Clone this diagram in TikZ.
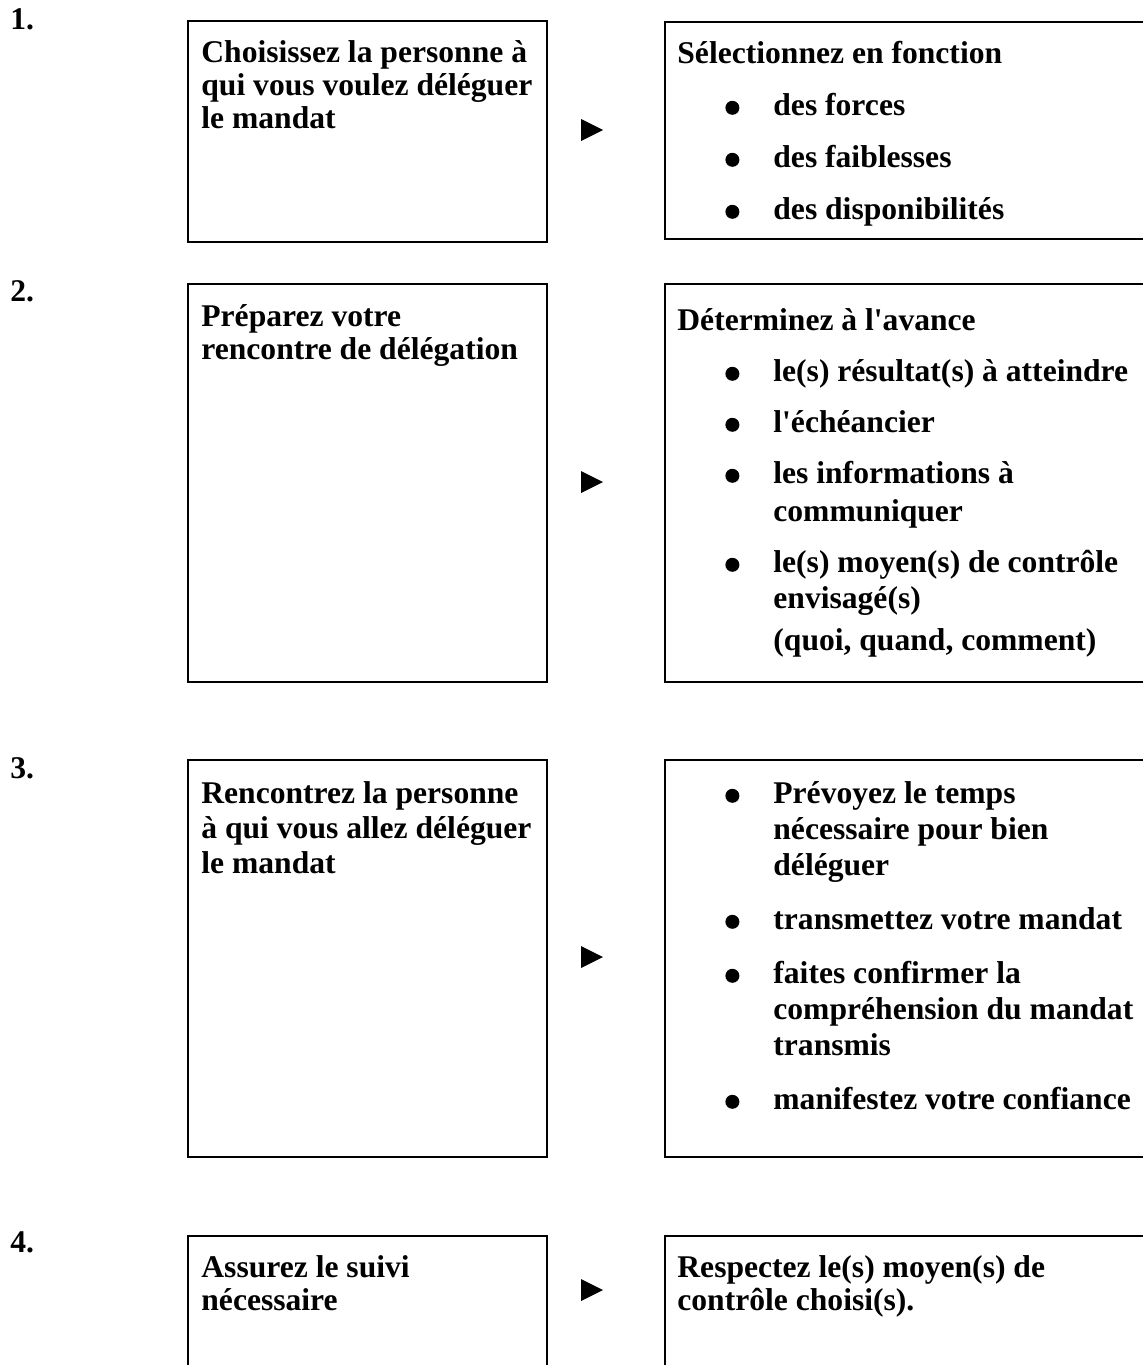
\documentclass[tikz,border=0pt]{standalone}
\usepackage{fontspec}
\setmainfont{Liberation Serif}
\newlength{\px}
\setlength{\px}{0.5pt}
\newcommand{\haut}[1][42]{\rule{0pt}{#1\px}}
\newcommand{\rond}{\tikz[baseline=0pt, x=1pt, y=1pt]\fill (3.5,3.8) circle (3.5);}
\newcommand{\puce}{\hspace*{48\px}\makebox[48\px][l]{\rond}}
\newcommand{\suite}{\hspace*{96\px}}

\begin{document}
\begin{tikzpicture}[x=0.5pt, y=-0.5pt,
  boite/.style={draw, line width=0.75pt, inner sep=0pt, anchor=north west},
  texte/.style={anchor=north west, inner sep=0pt, align=left, font=\fontsize{15.8}{16.5}\selectfont\bfseries},
  numero/.style={anchor=base west, inner sep=0pt, font=\fontsize{15.8}{16.5}\selectfont\bfseries}]
\useasboundingbox (0,0) rectangle (1143,1365);
\clip (0,0) rectangle (1143,1365);

% numeros
\node[numero] (n1) at (10,29) {1.};
\node[numero] (n2) at (10,301) {2.};
\node[numero] (n3) at (10,778) {3.};
\node[numero] (n4) at (10,1252) {4.};

% colonne gauche
\node[boite, minimum width=359\px, minimum height=221\px] (g1) at (187,20) {};
\node[boite, minimum width=359\px, minimum height=398\px] (g2) at (187,283) {};
\node[boite, minimum width=359\px, minimum height=397\px] (g3) at (187,759) {};
\node[boite, minimum width=359\px, minimum height=200\px] (g4) at (187,1235) {};

\node[texte] (tg1) at ([xshift=14\px]g1.north west) {\haut Choisissez la personne à\\qui vous voulez déléguer\\le mandat};
\node[texte] (tg2) at ([xshift=14\px]g2.north west) {\haut[43]Préparez votre\\rencontre de délégation};
\node[texte] (tg3) at ([xshift=14\px]g3.north west) {\haut[44]Rencontrez la personne\\[2\px]à qui vous allez déléguer\\[2\px]le mandat};
\node[texte] (tg4) at ([xshift=14\px]g4.north west) {\haut Assurez le suivi\\nécessaire};

% colonne droite
\node[boite, minimum width=540\px, minimum height=217\px] (d1) at (664,21) {};
\node[boite, minimum width=540\px, minimum height=398\px] (d2) at (664,283) {};
\node[boite, minimum width=540\px, minimum height=397\px] (d3) at (664,759) {};
\node[boite, minimum width=540\px, minimum height=200\px] (d4) at (664,1235) {};

\node[texte] (td1) at ([xshift=13\px]d1.north west) {\haut Sélectionnez en fonction\\[19\px]\puce des forces\\[19\px]\puce des faiblesses\\[19\px]\puce des disponibilités};
\node[texte] (td2) at ([xshift=13\px]d2.north west) {\haut[47]Déterminez à l\textquotesingle avance\\[18\px]\puce le(s) résultat(s) à atteindre\\[18\px]\puce l\textquotesingle échéancier\\[18\px]\puce les informations à\\[5\px]\suite communiquer\\[18\px]\puce le(s) moyen(s) de contrôle\\[3\px]\suite envisagé(s)\\[9\px]\suite (quoi, quand, comment)};
\node[texte] (td3) at ([xshift=13\px]d3.north west) {\haut[44]\puce Prévoyez le temps\\[3\px]\suite nécessaire pour bien\\[3\px]\suite déléguer\\[21\px]\puce transmettez votre mandat\\[21\px]\puce faites confirmer la\\[3\px]\suite compréhension du mandat\\[3\px]\suite transmis\\[21\px]\puce manifestez votre confiance};
\node[texte] (td4) at ([xshift=13\px]d4.north west) {\haut Respectez le(s) moyen(s) de\\contrôle choisi(s).};

% fleches
\foreach \yc in {130,482,957,1290}
  \fill (581,{\yc-11}) -- (603,\yc) -- (581,{\yc+11}) -- cycle;
\end{tikzpicture}
\end{document}
